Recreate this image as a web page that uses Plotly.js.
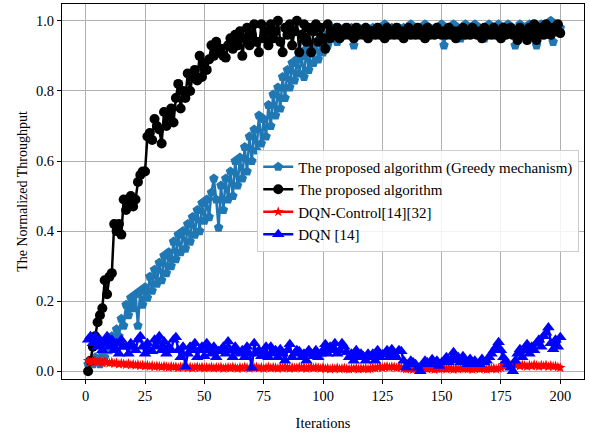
<!DOCTYPE html>
<html>
<head>
<meta charset="utf-8">
<script src="https://cdn.plot.ly/plotly-3.0.1.min.js"></script>
<style>html,body{margin:0;padding:0;background:#fff;}#chart{width:589px;height:433px;}</style>
</head>
<body>
<div id="chart"></div>
<script>
var seriesNames = ["The proposed algorithm (Greedy mechanism)", "The proposed algorithm", "DQN-Control[14][32]", "DQN [14]"];
var xTicks = [0, 25, 50, 75, 100, 125, 150, 175, 200];

var greedy = [
0.02,0.03,0.02,0.04,0.03,0.02,0.05,0.04,0.07,0.06,
0.10,0.08,0.12,0.10,0.15,0.13,0.19,0.16,0.21,0.18,
0.22,0.13,0.23,0.19,0.24,0.21,0.27,0.23,0.29,0.25,
0.31,0.26,0.33,0.28,0.34,0.30,0.37,0.32,0.39,0.34,
0.40,0.35,0.42,0.37,0.44,0.39,0.46,0.40,0.48,0.43,
0.49,0.44,0.51,0.55,0.49,0.41,0.53,0.46,0.55,0.49,
0.57,0.50,0.60,0.53,0.61,0.55,0.64,0.57,0.67,0.60,
0.69,0.63,0.73,0.65,0.72,0.67,0.76,0.70,0.79,0.73,
0.81,0.75,0.84,0.78,0.86,0.81,0.88,0.83,0.89,0.85,
0.90,0.84,0.92,0.86,0.93,0.88,0.94,0.89,0.95,0.91,
0.96,0.93,0.97,0.95,0.98,0.94,0.97,0.96,0.98,0.97,
0.97,0.98,0.93,0.97,0.98,0.96,0.97,0.98,0.96,0.97,
0.98,0.97,0.96,0.98,0.97,0.99,0.96,0.97,0.98,0.96,
0.97,0.98,0.96,0.98,0.97,0.96,0.99,0.97,0.98,0.96,
0.98,0.97,0.99,0.96,0.98,0.97,0.96,0.98,0.97,0.99,
0.93,0.97,0.98,0.96,0.99,0.97,0.98,0.95,0.97,0.99,
0.96,0.98,0.97,0.99,0.96,0.98,0.97,0.95,0.98,0.99,
0.97,0.96,0.98,0.99,0.97,0.98,0.96,0.99,0.97,0.98,
0.93,0.97,0.99,0.96,0.98,0.97,0.99,0.96,0.98,0.93,
0.97,0.99,0.96,0.98,0.97,1.00,0.94,0.99,0.97,0.98
];

var proposed = [
0.00,0.03,0.07,0.10,0.14,0.16,0.18,0.26,0.22,0.27,
0.28,0.42,0.40,0.42,0.39,0.49,0.46,0.48,0.50,0.47,
0.49,0.54,0.56,0.57,0.57,0.67,0.68,0.66,0.72,0.70,
0.69,0.65,0.74,0.70,0.73,0.75,0.71,0.78,0.82,0.75,
0.80,0.78,0.85,0.80,0.84,0.86,0.83,0.90,0.84,0.88,
0.86,0.89,0.93,0.90,0.94,0.91,0.92,0.90,0.895,0.93,
0.95,0.92,0.96,0.93,0.97,0.90,0.95,0.98,0.93,0.96,
0.99,0.94,0.91,0.99,0.95,0.97,0.93,0.99,0.95,0.97,
1.00,0.94,0.91,0.98,0.96,0.99,0.93,0.97,1.00,0.91,
0.96,0.99,0.94,0.98,0.91,0.97,0.99,0.94,0.98,0.95,
0.92,0.99,0.95,0.97,0.96,0.98,0.95,0.97,0.96,0.98,
0.96,0.97,0.95,0.98,0.96,0.97,0.96,0.98,0.95,0.97,
0.97,0.96,0.98,0.96,0.97,0.95,0.98,0.96,0.97,0.96,
0.98,0.96,0.97,0.95,0.97,0.98,0.96,0.97,0.96,0.98,
0.96,0.97,0.95,0.98,0.96,0.97,0.96,0.98,0.97,0.96,
0.97,0.96,0.98,0.96,0.97,0.95,0.97,0.96,0.98,0.96,
0.97,0.96,0.98,0.97,0.96,0.97,0.95,0.98,0.96,0.97,
0.96,0.98,0.96,0.97,0.95,0.98,0.96,0.97,0.98,0.96,
0.97,0.945,0.98,0.96,0.97,0.945,0.98,0.96,0.99,0.945,
0.97,0.98,0.96,0.99,0.97,0.96,0.98,0.97,0.99,0.965
];

var dqnControl = [
0.030,0.025,0.028,0.032,0.026,0.029,0.024,0.027,0.025,0.023,
0.026,0.022,0.024,0.020,0.023,0.021,0.019,0.022,0.018,0.020,
0.017,0.019,0.016,0.018,0.015,0.017,0.014,0.016,0.013,0.015,
0.014,0.012,0.015,0.013,0.011,0.014,0.012,0.013,0.010,0.012,
0.011,0.013,0.010,0.012,0.009,0.011,0.013,0.010,0.012,0.009,
0.011,0.010,0.012,0.009,0.011,0.010,0.012,0.008,0.010,0.011,
0.009,0.012,0.010,0.008,0.011,0.009,0.012,0.010,0.008,0.011,
0.010,0.012,0.009,0.011,0.008,0.010,0.012,0.009,0.011,0.010,
0.008,0.011,0.009,0.012,0.010,0.008,0.011,0.009,0.010,0.012,
0.009,0.011,0.008,0.010,0.012,0.009,0.011,0.010,0.008,0.011,
0.007,0.009,0.006,0.008,0.007,0.010,0.006,0.008,0.009,0.007,
0.006,0.008,0.007,0.009,0.006,0.008,0.007,0.009,0.006,0.008,
0.010,0.009,0.011,0.013,0.010,0.012,0.014,0.011,0.013,0.012,
0.010,0.013,0.011,0.008,0.006,0.008,0.007,0.005,0.008,0.006,
0.007,0.005,0.008,0.006,0.009,0.007,0.005,0.008,0.006,0.007,
0.008,0.006,0.009,0.007,0.005,0.008,0.006,0.009,0.007,0.008,
0.006,0.008,0.005,0.007,0.009,0.006,0.008,0.007,0.005,0.008,
0.007,0.009,0.006,0.008,0.010,0.018,0.015,0.020,0.016,0.014,
0.017,0.019,0.015,0.018,0.016,0.014,0.017,0.015,0.019,0.016,
0.014,0.017,0.015,0.018,0.013,0.016,0.014,0.015,0.012,0.010
];

var dqn = [
0.09,0.10,0.08,0.10,0.07,0.09,0.06,0.08,0.10,0.07,
0.09,0.06,0.08,0.05,0.09,0.07,0.07,0.05,0.08,0.07,
0.06,0.09,0.10,0.07,0.05,0.08,0.06,0.057,0.09,0.07,
0.10,0.06,0.085,0.05,0.07,0.06,0.09,0.097,0.06,0.04,
0.07,0.014,0.05,0.07,0.06,0.08,0.04,0.06,0.07,0.043,
0.08,0.06,0.05,0.07,0.04,0.057,0.06,0.07,0.05,0.085,
0.06,0.04,0.07,0.057,0.05,0.06,0.04,0.07,0.05,0.01,
0.08,0.05,0.06,0.043,0.05,0.07,0.04,0.07,0.05,0.06,
0.04,0.063,0.05,0.03,0.06,0.077,0.04,0.05,0.06,0.057,
0.04,0.05,0.03,0.06,0.05,0.043,0.06,0.04,0.05,0.06,
0.077,0.05,0.07,0.06,0.08,0.05,0.06,0.08,0.07,0.054,
0.04,0.05,0.03,0.06,0.04,0.05,0.043,0.03,0.05,0.04,
0.05,0.03,0.06,0.04,0.048,0.05,0.06,0.04,0.063,0.05,
0.04,0.06,0.057,0.03,0.011,0.02,0.03,0.025,0.02,0.01,
0.00,0.02,0.03,0.025,0.02,0.034,0.02,0.03,0.015,0.025,
0.03,0.04,0.025,0.035,0.054,0.03,0.04,0.025,0.043,0.03,
0.02,0.035,0.025,0.03,0.02,0.02,0.035,0.025,0.03,0.04,
0.05,0.06,0.07,0.083,0.06,0.04,0.03,0.02,0.01,0.00,
0.03,0.05,0.063,0.04,0.06,0.077,0.05,0.07,0.06,0.08,
0.09,0.07,0.10,0.11,0.125,0.08,0.063,0.09,0.07,0.097
];

var iterations = [];
for (var i = 1; i <= greedy.length; i++) iterations.push(i);

var font = "Liberation Serif";

var traces = [
  {x: iterations, y: greedy, name: seriesNames[0], mode: "lines+markers",
   line: {color: "#1f77b4", width: 2.5}, marker: {symbol: "pentagon", size: 10, color: "#1f77b4"}},
  {x: iterations, y: proposed, name: seriesNames[1], mode: "lines+markers",
   line: {color: "#000000", width: 2.5}, marker: {symbol: "circle", size: 10, color: "#000000"}},
  {x: iterations, y: dqnControl, name: seriesNames[2], mode: "lines+markers",
   line: {color: "#ff0000", width: 2.5}, marker: {symbol: "star", size: 8, color: "#ff0000"}},
  {x: iterations, y: dqn, name: seriesNames[3], mode: "lines+markers",
   line: {color: "#0000ff", width: 2.5}, marker: {symbol: "triangle-up", size: 11, color: "#0000ff"}}
];

var axisCommon = {
  showgrid: true, gridcolor: "#b0b0b0", gridwidth: 1,
  showline: true, linecolor: "#000000", linewidth: 1, mirror: true,
  ticks: "outside", ticklen: 4, tickcolor: "#000000",
  zeroline: false,
  tickfont: {family: font, size: 14.5, color: "#000000"}
};

var layout = {
  width: 589, height: 433,
  margin: {l: 62, r: 5, t: 4, b: 54},
  paper_bgcolor: "#ffffff", plot_bgcolor: "#ffffff",
  font: {family: font, size: 14.5, color: "#000000"},
  xaxis: Object.assign({}, axisCommon, {
    range: [-10, 210], tickvals: xTicks, ticktext: xTicks.map(String),
    title: {text: "Iterations", font: {family: font, size: 14.5, color: "#000000"}, standoff: 14}
  }),
  yaxis: Object.assign({}, axisCommon, {
    range: [-0.022, 1.048], dtick: 0.2, tick0: 0, tickformat: ".1f",
    title: {text: "The Normalized Throughput", font: {family: font, size: 14, color: "#000000"}, standoff: 5}
  }),
  showlegend: true,
  legend: {
    x: 0.374, y: 0.612, xanchor: "left", yanchor: "top",
    bgcolor: "rgba(255,255,255,0.85)", bordercolor: "#cccccc", borderwidth: 1,
    font: {family: font, size: 15, color: "#000000"}, tracegroupgap: 0
  }
};

Plotly.newPlot("chart", traces, layout, {displayModeBar: false, staticPlot: true});
</script>
</body>
</html>
